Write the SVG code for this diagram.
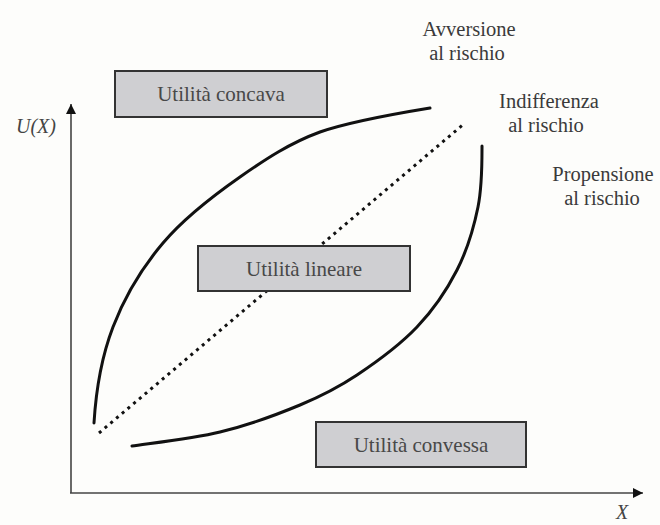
<svg xmlns="http://www.w3.org/2000/svg" width="660" height="525" viewBox="0 0 660 525">
<defs>
<style>
text{font-family:"Liberation Serif","Times New Roman",serif}
.lbl{font-size:20.5px;fill:#3a3a3a;text-anchor:middle}
.box{fill:#cfcfd2;stroke:#333;stroke-width:2}
.boxt{font-size:21px;fill:#484848;text-anchor:middle}
.ax{font-size:20px;font-style:italic;fill:#444;text-anchor:middle}
.axis{stroke:#444;stroke-width:1.6;fill:none}
.curve{stroke:#111;stroke-width:3;fill:none;stroke-linecap:round}
.dots{stroke:#111;stroke-width:3;fill:none;stroke-dasharray:3 4.5}
</style>
<marker id="ah" viewBox="0 0 10 10" refX="10" refY="5" markerWidth="10" markerHeight="10" markerUnits="userSpaceOnUse" orient="auto">
<path d="M0,0 L10,5 L0,10 Z" fill="#111"/>
</marker>
</defs>
<rect width="660" height="525" fill="#fdfdfb"/>
<g id="axes">
<line class="axis" x1="71" y1="493" x2="71" y2="104" marker-end="url(#ah)"/>
<line class="axis" x1="70" y1="493" x2="643" y2="493" marker-end="url(#ah)"/>
<text class="ax" x="36" y="133">U(X)</text>
<text class="ax" x="622" y="519">X</text>
</g>
<g id="connectors">
<path class="curve" d="M94,423 C96,390 101.5,357 113,327 C124.5,297 141.8,268 163,243 C184.2,218 213.8,195.3 240,177 C266.2,158.7 290,143 320,132 C351.7,121 411.7,111 430,108"/>
<path class="curve" d="M132,446 C146.7,443.7 192,438.8 220,432 C248,425.2 277.2,414.5 300,405 C322.8,395.5 337.5,388 357,375 C376.5,362 400.3,344.5 417,327 C433.7,309.5 446.8,290 457,270 C467.2,250 473.8,227.7 478,207 C482.2,186.3 482,160 482,146"/>
<line class="dots" x1="99" y1="433" x2="465" y2="123"/>
</g>
<g id="concava">
<rect class="box" x="115" y="71" width="212" height="46"/>
<text class="boxt" x="221" y="101">Utilità concava</text>
</g>
<g id="lineare">
<rect class="box" x="198" y="246" width="212" height="45"/>
<text class="boxt" x="304" y="276">Utilità lineare</text>
</g>
<g id="convessa">
<rect class="box" x="316" y="422" width="210" height="45"/>
<text class="boxt" x="421" y="452">Utilità convessa</text>
</g>
<g id="avversione">
<text class="lbl" x="469" y="36">Avversione</text>
<text class="lbl" x="467" y="60">al rischio</text>
</g>
<g id="indifferenza">
<text class="lbl" x="549" y="108">Indifferenza</text>
<text class="lbl" x="546" y="132">al rischio</text>
</g>
<g id="propensione">
<text class="lbl" x="603" y="181">Propensione</text>
<text class="lbl" x="602" y="205">al rischio</text>
</g>
</svg>
